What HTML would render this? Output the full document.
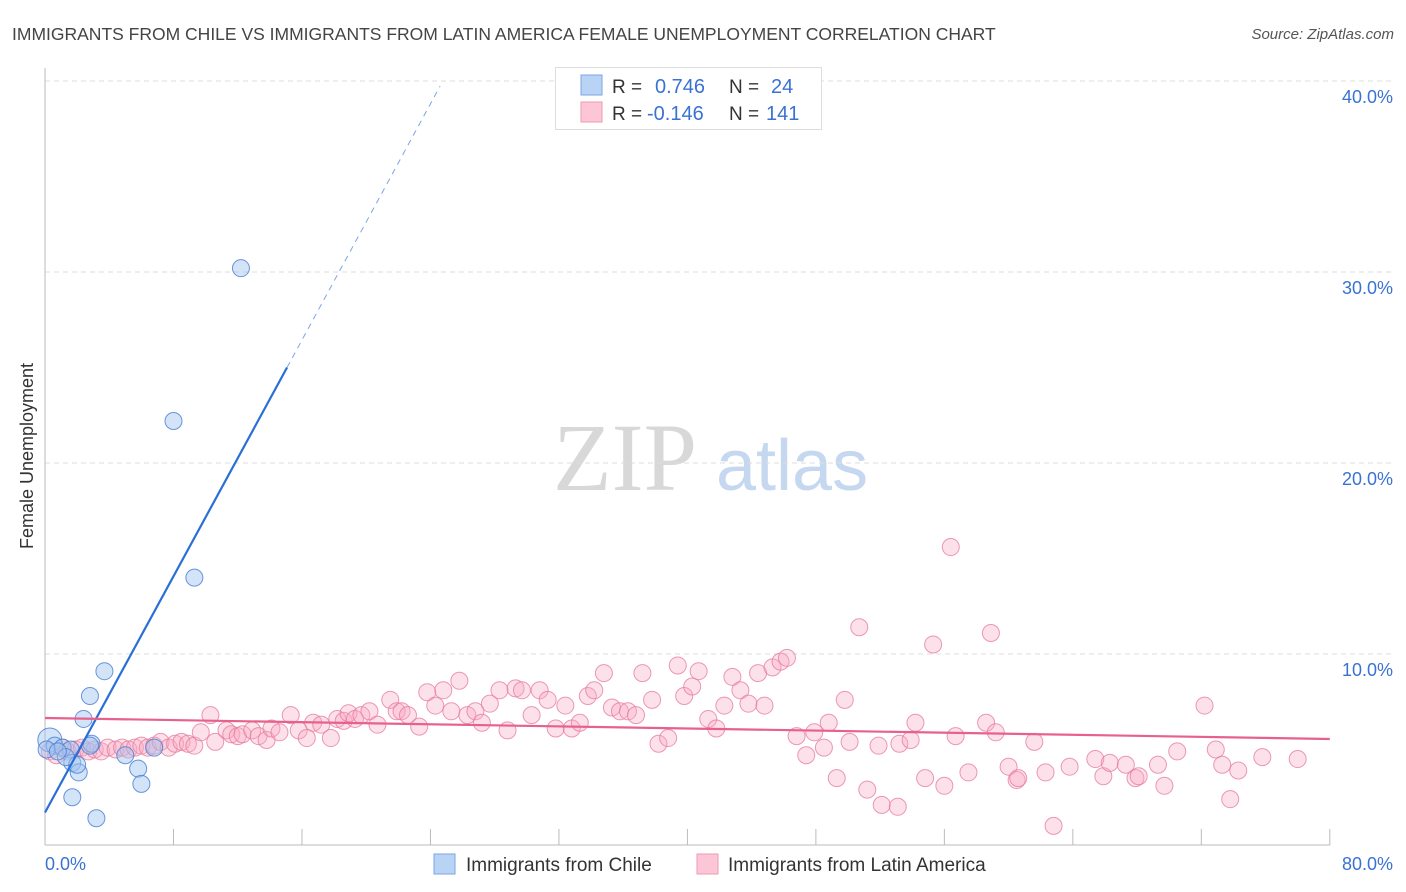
<!DOCTYPE html>
<html><head><meta charset="utf-8"><style>
body{margin:0;background:#fff;font-family:"Liberation Sans",sans-serif;}
svg{display:block}
</style></head><body>
<svg id="chart" width="1406" height="892" viewBox="0 0 1406 892">
<text x="12" y="40" font-size="17.5" fill="#444">IMMIGRANTS FROM CHILE VS IMMIGRANTS FROM LATIN AMERICA FEMALE UNEMPLOYMENT CORRELATION CHART</text>
<text x="1394" y="39" font-size="15" fill="#555" font-style="italic" text-anchor="end">Source: ZipAtlas.com</text>
<text transform="translate(33,456) rotate(-90)" font-size="18" fill="#333" text-anchor="middle">Female Unemployment</text>
<g>
<text x="553" y="490" font-size="96" font-family="Liberation Serif,serif" fill="#d8d8d8">ZIP</text>
<text x="716" y="490" font-size="72" fill="#c5d8f0">atlas</text>
</g>
<g id="grid"></g>
<g id="axes"></g>
<g id="pts"></g>
<g id="lines"></g>
<g>
<rect x="555.5" y="67.5" width="266" height="62" fill="#fff" stroke="#ddd"/>
<rect x="581" y="75" width="21" height="20" fill="#b9d3f5" stroke="#7aa6e6"/>
<rect x="581" y="102" width="21" height="20" fill="#fcc6d6" stroke="#ee9ab5"/>
<text x="612" y="93" font-size="19" fill="#333">R = </text><text x="655" y="93" font-size="20" fill="#3a72d4">0.746</text>
<text x="729" y="93" font-size="19" fill="#333">N = </text><text x="771" y="93" font-size="20" fill="#3a72d4">24</text>
<text x="612" y="120" font-size="19" fill="#333">R = </text><text x="647" y="120" font-size="20" fill="#3a72d4">-0.146</text>
<text x="729" y="120" font-size="19" fill="#333">N = </text><text x="766" y="120" font-size="20" fill="#3a72d4">141</text>
</g>
<g>
<rect x="434" y="854" width="21" height="20" fill="#b9d3f5" stroke="#7aa6e6"/>
<text x="466" y="871" font-size="19" fill="#333">Immigrants from Chile</text>
<rect x="697" y="854" width="21" height="20" fill="#fcc6d6" stroke="#ee9ab5"/>
<text x="728" y="871" font-size="19" fill="#333">Immigrants from Latin America</text>
</g>
</svg>
<script>
const chileX=[12.2,8.0,9.3,3.7,2.8,2.4,0.3,0.6,1.1,1.6,2.9,2.8,5.0,6.8,1.7,2.1,2.0,1.3,5.8,6.0,1.7,3.2,0.1,0.8];
const chileY=[30.2,22.2,14.0,9.1,7.8,6.6,5.5,5.2,5.1,5.0,5.3,5.2,4.7,5.1,4.3,3.8,4.2,4.6,4.0,3.2,2.5,1.4,5.0,4.9];
const latX=[0.3,0.7,1.1,1.4,1.9,2.3,2.7,3.1,3.5,3.9,4.4,4.8,5.2,5.6,6.0,6.4,6.8,7.2,7.7,8.1,8.5,8.9,9.3,9.7,10.3,10.6,11.3,11.6,12.0,12.3,12.9,13.3,13.8,14.1,14.6,15.3,15.8,16.3,16.7,17.2,17.8,18.2,18.6,18.9,19.3,19.7,20.2,20.7,21.5,21.9,22.2,22.6,23.3,23.8,24.3,24.8,25.3,25.8,26.3,26.8,27.2,27.7,28.3,28.8,29.3,29.7,30.3,30.8,31.3,31.8,32.4,32.8,33.3,33.8,34.2,34.8,35.3,35.8,36.3,36.8,37.2,37.8,38.2,38.8,39.4,39.8,40.3,40.7,41.3,41.8,42.3,42.8,43.3,43.8,44.4,44.8,45.3,45.8,46.2,46.8,47.4,47.9,48.5,48.8,49.3,49.8,50.1,50.7,51.2,51.9,52.1,53.1,53.2,53.9,54.2,54.8,55.3,56.0,56.4,56.7,57.5,58.6,58.9,59.2,60.0,60.5,60.6,61.6,62.3,62.8,63.8,65.4,65.9,66.3,67.3,67.9,68.1,69.3,69.7,70.5,72.2,72.9,73.3,73.8,74.3,75.8,78.0];
const latY=[4.9,4.7,5.1,4.9,5.0,5.1,4.9,5.0,4.9,5.1,5.0,5.1,5.0,5.1,5.2,5.1,5.2,5.4,5.1,5.3,5.4,5.3,5.2,5.9,6.8,5.4,6.0,5.8,5.7,5.8,6.0,5.7,5.5,6.1,5.9,6.8,6.0,5.6,6.4,6.3,5.6,6.6,6.5,6.9,6.6,6.8,7.0,6.3,7.6,7.0,7.0,6.8,6.2,8.0,7.3,8.1,7.0,8.6,6.8,7.0,6.4,7.4,8.1,6.0,8.2,8.1,6.8,8.1,7.6,6.1,7.3,6.1,6.4,7.8,8.1,9.0,7.2,7.0,7.0,6.8,9.0,7.6,5.3,5.6,9.4,7.8,8.3,9.1,6.6,6.1,7.3,8.8,8.1,7.4,9.0,7.3,9.3,9.6,9.8,5.7,4.7,5.9,5.1,6.4,3.5,7.6,5.4,11.4,2.9,5.2,2.1,2.0,5.3,5.5,6.4,3.5,10.5,3.1,15.6,5.7,3.8,6.4,11.1,5.9,4.1,3.4,3.5,5.4,3.8,1.0,4.1,4.5,3.6,4.3,4.2,3.5,3.6,4.2,3.1,4.9,7.3,5.0,4.2,2.4,3.9,4.6,4.5];
const yTicks=[10,20,30,40];
const yTickLabels=["10.0%","20.0%","30.0%","40.0%"];
const xTicks=[0,8,16,24,32,40,48,56,64,72,80];
const xEndLabels=["0.0%","80.0%"];
const chileTrend=[1.7,1.546]; // intercept, slope
const latTrend=[6.65,-0.01375];

const NS="http://www.w3.org/2000/svg";
const X=v=>45+v*16.06, Y=v=>845-v*19.1;
function mk(tag,attrs,parent){const e=document.createElementNS(NS,tag);for(const k in attrs)e.setAttribute(k,attrs[k]);parent.appendChild(e);return e;}
const grid=document.getElementById('grid'),axes=document.getElementById('axes'),pts=document.getElementById('pts'),lines=document.getElementById('lines');
yTicks.forEach((t,i)=>{
 const l=mk('line',{x1:45,x2:1393,y1:Y(t),y2:Y(t),stroke:'#ddd','stroke-dasharray':'5,4'},grid);
 
 
 const tx=mk('text',{x:1393,y:Y(t)+22,'font-size':18,fill:'#3a72d4','text-anchor':'end'},axes);
 tx.textContent=yTickLabels[i];
 
 
});
let a=mk('line',{x1:45,x2:45,y1:68,y2:845,stroke:'#bbb'},axes);


a=mk('line',{x1:45,x2:X(80),y1:845,y2:845,stroke:'#bbb'},axes);


xTicks.forEach(t=>{
 const l=mk('line',{x1:X(t),x2:X(t),y1:829,y2:845,stroke:'#bbb'},axes);
 
 
});
let t0=mk('text',{x:45,y:870,'font-size':18,fill:'#3a72d4'},axes);t0.textContent=xEndLabels[0];


let t1=mk('text',{x:1393,y:870,'font-size':18,fill:'#3a72d4','text-anchor':'end'},axes);t1.textContent=xEndLabels[1];


latX.forEach((x,i)=>{
 const c=mk('circle',{cx:X(x),cy:Y(latY[i]),r:8.5,fill:'rgba(248,170,195,0.35)',stroke:'rgba(230,120,155,0.75)','stroke-width':1},pts);
 
 
});
chileX.forEach((x,i)=>{
 const c=mk('circle',{cx:X(x),cy:Y(chileY[i]),r:i===6?12:8.5,fill:'rgba(160,195,240,0.45)',stroke:'rgba(70,125,210,0.8)','stroke-width':1},pts);
 
 
});
let l1=mk('line',{x1:X(0),y1:Y(chileTrend[0]),x2:X(15.07),y2:Y(chileTrend[0]+chileTrend[1]*15.07),stroke:'#2a6fd6','stroke-width':2.2},lines);


let l2=mk('line',{x1:X(15.07),y1:Y(chileTrend[0]+chileTrend[1]*15.07),x2:X(24.6),y2:Y(chileTrend[0]+chileTrend[1]*24.6),stroke:'#7aa6e6','stroke-width':1,'stroke-dasharray':'6,5'},lines);


let l3=mk('line',{x1:X(0),y1:Y(latTrend[0]),x2:X(80),y2:Y(latTrend[0]+latTrend[1]*80),stroke:'#e8608c','stroke-width':2.2},lines);


</script>
</body></html>
